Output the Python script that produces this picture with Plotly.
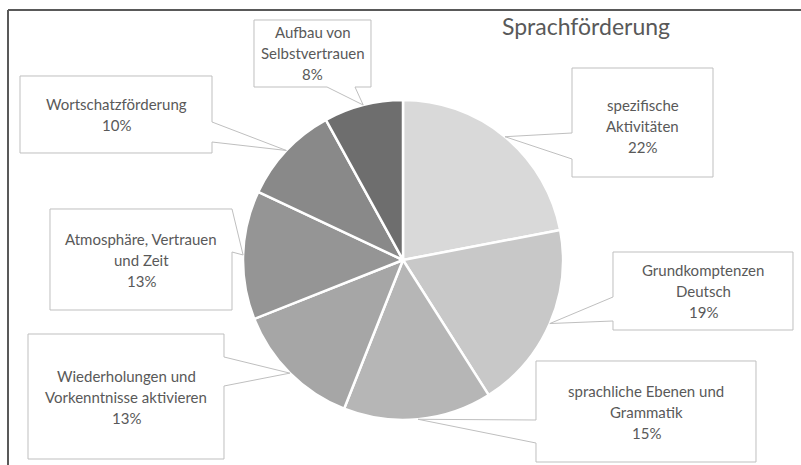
import math
import plotly.graph_objects as go

# ---- data ----
categories = [
    "spezifische\nAktivitäten",
    "Grundkomptenzen\nDeutsch",
    "sprachliche Ebenen und\nGrammatik",
    "Wiederholungen und\nVorkenntnisse aktivieren",
    "Atmosphäre, Vertrauen\nund Zeit",
    "Wortschatzförderung",
    "Aufbau von\nSelbstvertrauen",
]
values = [22, 19, 15, 13, 13, 10, 8]
colors = ["#d9d9d9", "#c8c8c8", "#b6b6b6", "#a6a6a6", "#959595", "#898989", "#6e6e6e"]
title_text = "Sprachförderung"

# ---- layout constants (pixels) ----
W, H = 801, 465
CX, CY, R = 403, 260, 160
TXT = "#595959"
BOX_LINE = "#bfbfbf"
FONT = "Lato"

# box rect (x0, y0, x1, y1), wedge side, wedge base (a, b)
boxes = [
    ((572, 68, 713, 177), "left", (133, 159)),
    ((613, 252, 793, 330), "left", (297, 321)),
    ((536, 361, 756, 462), "left", (420, 443)),
    ((28, 334, 224, 459), "right", (357, 386)),
    ((50, 209, 232, 310), "right", (209, 252)),
    ((20, 76, 212, 153), "right", (122, 142)),
    ((254, 20, 371, 87), "bottom", (327, 355)),
]
text_dy = [3, 0, 0, 0, 0, 0, 0]


def px(x):
    return x / W


def py(y):
    return 1 - y / H


def P(x, y):
    return f"{px(x):.5f},{py(y):.5f}"


fig = go.Figure(go.Pie(
    labels=[c.replace("\n", " ") for c in categories],
    values=values,
    sort=False,
    direction="clockwise",
    rotation=0,
    marker=dict(colors=colors, line=dict(color="white", width=2.5)),
    textinfo="none",
    hoverinfo="label+percent",
    showlegend=False,
    domain=dict(x=[px(CX - R), px(CX + R)], y=[py(CY + R), py(CY - R)]),
))

shapes = []
annotations = []
total = sum(values)
cum = 0
for i, v in enumerate(values):
    mid = (cum + v / 2) / total
    cum += v
    th = 2 * math.pi * mid
    ax, ay = CX + R * math.sin(th), CY - R * math.cos(th)
    (x0, y0, x1, y1), side, (a, b) = boxes[i]
    pts = [(x0, y0), (x1, y0)]
    if side == "right":
        pts += [(x1, a), (ax, ay), (x1, b)]
    pts += [(x1, y1)]
    if side == "bottom":
        pts += [(b, y1), (ax, ay), (a, y1)]
    pts += [(x0, y1)]
    if side == "left":
        pts += [(x0, b), (ax, ay), (x0, a)]
    path = "M " + " L ".join(P(x, y) for x, y in pts) + " Z"
    shapes.append(dict(type="path", xref="paper", yref="paper", path=path,
                       fillcolor="white", line=dict(color=BOX_LINE, width=1), layer="above"))
    lines = categories[i].split("\n") + [f"{round(v / total * 100)}%"]
    n = len(lines)
    cxb = (x0 + x1) / 2
    cyb = (y0 + y1) / 2 + text_dy[i]
    for j, ln in enumerate(lines):
        yy = cyb + (j - (n - 1) / 2) * 21
        annotations.append(dict(x=px(cxb), y=py(yy), xref="paper", yref="paper",
                                text=ln, showarrow=False, xanchor="center", yanchor="middle",
                                font=dict(family=FONT, size=15, color=TXT)))

annotations.append(dict(x=px(586), y=py(26), xref="paper", yref="paper", text=title_text,
                        showarrow=False, xanchor="center", yanchor="middle",
                        font=dict(family=FONT, size=23, color=TXT)))

# chart frame (top and left edges visible)
shapes.append(dict(type="line", xref="paper", yref="paper", x0=px(8), y0=py(10), x1=1.0, y1=py(10),
                   line=dict(color="#595959", width=2)))
shapes.append(dict(type="line", xref="paper", yref="paper", x0=px(8), y0=py(10), x1=px(8), y1=0.0,
                   line=dict(color="#595959", width=2)))

fig.update_layout(
    width=W, height=H,
    margin=dict(l=0, r=0, t=0, b=0),
    paper_bgcolor="white",
    plot_bgcolor="white",
    shapes=shapes,
    annotations=annotations,
)

fig.write_html("out.html")
